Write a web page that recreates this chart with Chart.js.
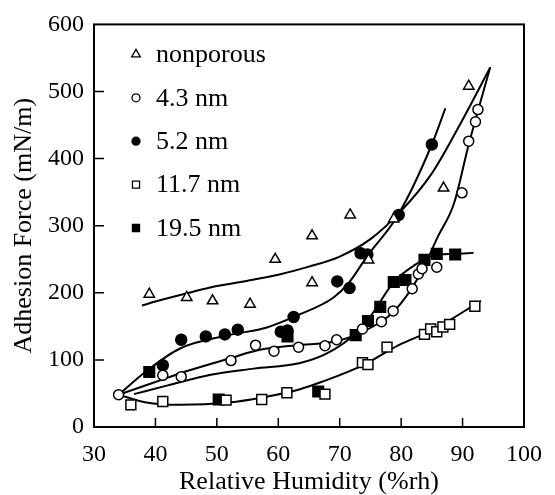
<!DOCTYPE html>
<html><head><meta charset="utf-8">
<script src="https://cdn.jsdelivr.net/npm/chart.js@4.4.0/dist/chart.umd.min.js"></script>
<style>html,body{margin:0;padding:0;background:#fff;} #wrap{width:555px;height:495px;}</style>
</head><body><div id="wrap"><canvas id="c" width="555" height="495"></canvas></div>
<script>
// ---- data ----
const xTickValues = [30, 40, 50, 60, 70, 80, 90, 100];
const yTickValues = [0, 100, 200, 300, 400, 500, 600];
const seriesNames = ['nonporous', '4.3 nm', '5.2 nm', '11.7 nm', '19.5 nm'];
const xTitle = 'Relative Humidity (%rh)';
const yTitle = 'Adhesion Force (mN/m)';

const nonporousRH = [39.0, 45.1, 49.3, 55.4, 59.5, 65.5, 65.5, 71.7, 74.7, 78.8, 86.9, 91.0];
const nonporousF  = [198, 193, 188, 183, 250, 285, 215, 316, 249, 310, 356, 508];
const nm43RH = [34.0, 41.2, 44.2, 52.3, 56.3, 59.3, 63.3, 67.6, 69.5, 73.7, 76.8, 78.7, 81.8, 82.8, 83.4, 85.8, 89.9, 91.0, 92.1, 92.5];
const nm43F  = [48, 77, 75, 99, 122, 113, 119, 121, 130, 146, 157, 173, 206, 228, 236, 238, 349, 426, 455, 473];
const nm52RH = [41.2, 44.2, 48.2, 51.3, 53.4, 60.4, 61.5, 62.5, 69.6, 71.6, 73.4, 74.5, 79.6, 85.0];
const nm52F  = [92, 130, 135, 138, 145, 142, 144, 164, 217, 207, 259, 257, 316, 421];
const nm117RH = [36.0, 41.2, 51.5, 57.3, 61.4, 67.6, 73.7, 74.6, 77.7, 83.8, 84.8, 85.8, 86.8, 87.9, 92.0];
const nm117F  = [33, 38, 40, 41, 51, 49, 96, 93, 119, 138, 146, 142, 149, 153, 180];
const nm195RH = [39.0, 50.3, 61.5, 66.5, 72.6, 74.6, 76.6, 78.8, 80.7, 83.8, 85.8, 88.8];
const nm195F  = [82, 41, 135, 53, 137, 158, 179, 216, 219, 249, 258, 257];

// fitted curves as drawn in the reference
const nonporousFitRH = [37.8, 40, 45, 50, 55, 60, 65, 70, 75, 80, 85, 90, 94.5];
const nonporousFitF  = [181, 187, 199, 210, 218, 227, 239, 254, 280, 322, 378, 458, 536];
const nm43FitRH = [34, 40, 45, 52, 57, 63, 69, 74, 79, 83, 86, 88.6, 91, 94.5];
const nm43FitF  = [48, 67, 83, 102, 115, 122, 127, 143, 174, 226, 284, 333, 421, 536];
const nm52FitRH = [34, 38.5, 44, 52, 58, 63, 69, 71.5, 74.5, 79.5, 85, 87.2];
const nm52FitF  = [48, 83, 117, 137, 148, 166, 193, 215, 255, 316, 421, 475];
const nm117FitRH = [34, 38.5, 44, 52, 57.4, 63.4, 67, 74, 79.6, 85, 93];
const nm117FitF  = [48, 36.5, 33, 36.5, 44, 56, 67, 93, 122, 144, 188];
const nm195FitRH = [36.5, 42, 49, 56, 63.4, 68, 72.3, 75, 78.8, 82, 85, 88.8, 91.8];
const nm195FitF  = [49, 62, 78, 87, 95, 110, 137, 165, 216, 240, 255, 258, 259.5];

const toXY = (xs, ys) => xs.map((x, i) => ({x: x, y: ys[i]}));

const FONT = '"Liberation Serif", "Times New Roman", serif';

function pointSet(label, xs, ys, style, radius, fill) {
  return {
    label: label, data: toXY(xs, ys), showLine: false, order: 0,
    pointStyle: style, pointRadius: radius, pointHoverRadius: radius,
    pointBackgroundColor: fill, pointBorderColor: '#000', pointBorderWidth: 1.5
  };
}
function fitSet(xs, ys) {
  return {
    label: '', data: toXY(xs, ys), showLine: true, order: 10,
    borderColor: '#000', borderWidth: 2, pointRadius: 0, pointHoverRadius: 0,
    cubicInterpolationMode: 'monotone', fill: false
  };
}

const markerSpec = [
  {style: 'triangle', r: 6, lr: 5, fill: '#fff'},
  {style: 'circle', r: 5, lr: 4, fill: '#fff'},
  {style: 'circle', r: 5.5, lr: 4, fill: '#000'},
  {style: 'rect', r: 7, lr: 5, fill: '#fff'},
  {style: 'rect', r: 7.5, lr: 5, fill: '#000'}
];

const frameAndTicks = {
  id: 'frameAndTicks',
  afterDatasetsDraw(chart) {
    const {ctx, chartArea: a, scales} = chart;
    ctx.save();
    ctx.strokeStyle = '#000';
    ctx.lineWidth = 2;
    ctx.strokeRect(a.left, a.top, a.right - a.left, a.bottom - a.top);
    ctx.lineWidth = 1.5;
    ctx.beginPath();
    xTickValues.forEach(v => {
      if (v === xTickValues[0] || v === xTickValues[xTickValues.length - 1]) return;
      const px = scales.x.getPixelForValue(v);
      ctx.moveTo(px, a.bottom); ctx.lineTo(px, a.bottom - 9);
    });
    yTickValues.forEach(v => {
      if (v === yTickValues[0] || v === yTickValues[yTickValues.length - 1]) return;
      const py = scales.y.getPixelForValue(v);
      ctx.moveTo(a.left, py); ctx.lineTo(a.left + 10, py);
    });
    ctx.stroke();
    // legend
    const lx = a.left + 42, ly0 = a.top + 30, dy = 43.4;
    ctx.font = '26px ' + FONT;
    ctx.fillStyle = '#000';
    ctx.textBaseline = 'middle';
    ctx.textAlign = 'left';
    seriesNames.forEach((name, i) => {
      const m = markerSpec[i];
      const y = ly0 + i * dy;
      ctx.fillStyle = m.fill;
      ctx.strokeStyle = '#000';
      ctx.lineWidth = 1.3;
      Chart.helpers.drawPoint(ctx, {pointStyle: m.style, radius: m.lr, borderWidth: 1.3}, lx, y);
      ctx.fillStyle = '#000';
      ctx.fillText(name, lx + 20, y + 1);
    });
    ctx.restore();
  }
};

new Chart(document.getElementById('c'), {
  type: 'scatter',
  data: {
    datasets: [
      fitSet(nonporousFitRH, nonporousFitF),
      fitSet(nm43FitRH, nm43FitF),
      fitSet(nm52FitRH, nm52FitF),
      fitSet(nm117FitRH, nm117FitF),
      fitSet(nm195FitRH, nm195FitF),
      pointSet(seriesNames[0], nonporousRH, nonporousF, markerSpec[0].style, markerSpec[0].r, markerSpec[0].fill),
      pointSet(seriesNames[1], nm43RH, nm43F, markerSpec[1].style, markerSpec[1].r, markerSpec[1].fill),
      pointSet(seriesNames[2], nm52RH, nm52F, markerSpec[2].style, markerSpec[2].r, markerSpec[2].fill),
      pointSet(seriesNames[3], nm117RH, nm117F, markerSpec[3].style, markerSpec[3].r, markerSpec[3].fill),
      pointSet(seriesNames[4], nm195RH, nm195F, markerSpec[4].style, markerSpec[4].r, markerSpec[4].fill)
    ]
  },
  options: {
    responsive: false,
    devicePixelRatio: 1,
    animation: false,
    layout: {padding: {top: 18, right: 29, left: 0, bottom: 0}},
    plugins: {legend: {display: false}, tooltip: {enabled: false}},
    scales: {
      x: {
        type: 'linear', min: 30, max: 100,
        afterBuildTicks: s => { s.ticks = xTickValues.map(v => ({value: v})); },
        afterFit: s => { s.height = 68; },
        grid: {display: false, drawTicks: false},
        border: {display: false},
        ticks: {padding: 13, color: '#000', font: {family: FONT, size: 24}, maxRotation: 0},
        title: {display: true, text: xTitle, color: '#000', font: {family: FONT, size: 26, lineHeight: 1}, padding: {top: 0, bottom: 0}}
      },
      y: {
        type: 'linear', min: 0, max: 600,
        afterBuildTicks: s => { s.ticks = yTickValues.map(v => ({value: v})); },
        afterFit: s => { s.width = 94; },
        grid: {display: false, drawTicks: false},
        border: {display: false},
        ticks: {padding: 10, color: '#000', font: {family: FONT, size: 24}},
        title: {display: true, text: yTitle, color: '#000', font: {family: FONT, size: 26, lineHeight: 1}, padding: {top: 11, bottom: 0}}
      }
    }
  },
  plugins: [frameAndTicks]
});
</script>
</body></html>
